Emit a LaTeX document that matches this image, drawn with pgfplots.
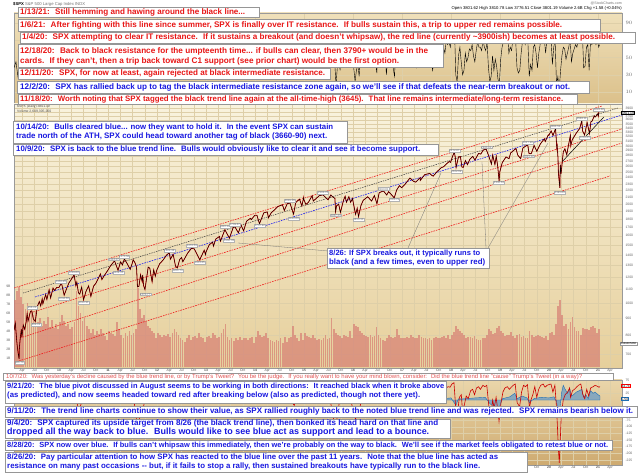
\documentclass[border=0pt]{standalone}
\usepackage{pgfplots}
\pgfplotsset{compat=1.18}
\usepackage{fontspec}
\setmainfont{Liberation Sans}
\definecolor{rtext}{RGB}{232,22,22}
\definecolor{btext}{RGB}{24,24,224}
\definecolor{pinktext}{RGB}{226,84,84}
\definecolor{boxline}{RGB}{150,150,150}
\definecolor{gridc}{RGB}{222,207,168}
\definecolor{mainTop}{RGB}{249,243,222}
\definecolor{mainBot}{RGB}{230,207,155}
\definecolor{topTop}{RGB}{239,224,186}
\definecolor{topBot}{RGB}{219,192,138}
\definecolor{botTop}{RGB}{234,214,170}
\definecolor{botBot}{RGB}{206,170,112}
\definecolor{volc}{RGB}{214,120,112}
\definecolor{trred}{RGB}{238,30,30}
\definecolor{trblue}{RGB}{30,30,238}
\definecolor{trblack}{RGB}{60,60,60}
\definecolor{macdblue}{RGB}{30,110,180}
\newcommand\bx[4]{\draw[boxline,fill=white,line width=0.5pt] (#1,{473-#2}) rectangle (#3,{473-#4});}
% x, y-centre, colour, width, text
\newcommand\bt[5]{\node[anchor=base west,inner sep=0pt] at (#1,{470.5-#2}) {\resizebox{#4pt}{!}{\fontsize{7.6}{9}\selectfont\bfseries\color{#3}#5}};}
\newcommand\lb[3]{\node[draw=black!30,fill=white,inner sep=0.4pt,font=\fontsize{2.8}{3}\selectfont,text=black!55,#3] at (axis cs:#1) {#2};}
\pgfplotsset{
 base/.style={scale only axis, width=608pt, xmin=2009.08, xmax=2021.49, anchor=south west,
   axis line style={draw=black!40, line width=0.4pt}, major tick length=0pt,
   tick label style={font=\fontsize{3.4}{4}\selectfont, text=black!60},
   grid style={gridc, line width=0.3pt}},
 monthticks/.style={xtick={2009.247,2009.496,2009.748,
 2010,2010.247,2010.496,2010.748,2011,2011.247,2011.496,2011.748,
 2012,2012.247,2012.496,2012.748,2013,2013.247,2013.496,2013.748,
 2014,2014.247,2014.496,2014.748,2015,2015.247,2015.496,2015.748,
 2016,2016.247,2016.496,2016.748,2017,2017.247,2017.496,2017.748,
 2018,2018.247,2018.496,2018.748,2019,2019.247,2019.496,2019.748,
 2020,2020.247,2020.496,2020.748,2021,2021.247},
 xticklabel style={inner sep=0.6pt, text=black!65}},
 months/.style={monthticks,
 xticklabels={Apr,Jul,Oct,\textbf{10},Apr,Jul,Oct,\textbf{11},Apr,Jul,Oct,\textbf{12},Apr,Jul,Oct,\textbf{13},Apr,Jul,Oct,\textbf{14},Apr,Jul,Oct,\textbf{15},Apr,Jul,Oct,\textbf{16},Apr,Jul,Oct,\textbf{17},Apr,Jul,Oct,\textbf{18},Apr,Jul,Oct,\textbf{19},Apr,Jul,Oct,\textbf{20},Apr,Jul,Oct,\textbf{21},Apr}},
 monthsend/.style={monthticks,
 xticklabels={,,,,,,,,,,,,,,,,,,,,,,,,,,,,,,,,,,,,,,,,,,Oct,\textbf{20},Apr,Jul,Oct,\textbf{21},Apr}},
}
\begin{document}
\begin{tikzpicture}[x=1pt,y=1pt]
\fill[white] (0,0) rectangle (640,473);
\useasboundingbox (0,0) rectangle (640,473);

% ---------------- top panel (RSI) ----------------
\begin{axis}[base, at={(14pt,369pt)}, height=91pt, ymin=-4, ymax=101.7,
  axis background/.style={top color=topTop, bottom color=topBot},
  xtick={2010,2011,2012,2013,2014,2015,2016,2017,2018,2019,2020,2021}, xticklabels={},
  ytick={10,30,50,70,90}, yticklabel pos=right, ymajorgrids, xmajorgrids]
\addplot[black, line width=0.4pt] coordinates {
(2009.08,38)(2009.12,45)(2009.16,28)(2009.20,55)(2009.24,62)(2009.28,58)(2009.33,70)(2009.37,55)(2009.41,65)(2009.45,48)(2009.49,42)(2009.53,68)(2009.58,72)(2009.62,55)(2009.66,68)(2009.70,62)(2009.74,45)(2009.78,65)(2009.83,48)(2009.87,66)(2009.91,58)(2009.95,62)(2009.99,60)
(2010.04,62)(2010.12,35)(2010.21,68)(2010.29,66)(2010.37,30)(2010.46,38)(2010.54,50)(2010.62,60)(2010.71,42)(2010.79,65)(2010.87,58)(2010.96,68)
(2011.04,66)(2011.12,70)(2011.21,42)(2011.29,62)(2011.37,55)(2011.46,38)(2011.54,58)(2011.62,25)(2011.71,35)(2011.79,65)(2011.87,40)(2011.96,52)
(2012.04,68)(2012.12,72)(2012.21,70)(2012.29,45)(2012.37,32)(2012.46,50)(2012.54,58)(2012.62,62)(2012.71,68)(2012.79,40)(2012.87,35)(2012.96,60)
(2013.04,72)(2013.12,68)(2013.21,70)(2013.29,58)(2013.37,74)(2013.46,38)(2013.54,68)(2013.62,45)(2013.71,62)(2013.79,48)(2013.87,70)(2013.96,65)
(2014.04,60)(2014.12,35)(2014.21,62)(2014.29,45)(2014.37,60)(2014.46,70)(2014.54,68)(2014.62,40)(2014.71,62)(2014.79,30)(2014.87,70)(2014.96,42)
(2015.04,55)(2015.12,68)(2015.21,45)(2015.29,58)(2015.37,62)(2015.46,50)
(2015.514,55)(2015.542,45)(2015.569,62)(2015.597,58)(2015.625,45)(2015.653,18)(2015.681,40)(2015.708,50)(2015.736,35)(2015.764,55)(2015.792,68)(2015.819,72)(2015.847,68)(2015.875,45)(2015.903,58)(2015.931,60)(2015.958,38)(2015.986,52)
(2016.014,38)(2016.042,22)(2016.069,35)(2016.097,42)(2016.125,28)(2016.153,55)(2016.181,65)(2016.208,72)(2016.236,70)(2016.264,62)(2016.292,68)(2016.319,60)(2016.347,45)(2016.375,40)(2016.403,55)(2016.431,62)(2016.458,45)(2016.486,32)(2016.514,70)(2016.542,78)(2016.569,72)(2016.597,65)(2016.625,62)(2016.653,55)(2016.681,30)(2016.708,52)(2016.736,48)(2016.764,45)(2016.792,42)(2016.819,38)(2016.847,28)(2016.875,65)(2016.903,72)(2016.931,78)(2016.958,75)(2016.986,62)
(2017.014,58)(2017.042,52)(2017.069,65)(2017.097,72)(2017.125,82)(2017.153,80)(2017.181,62)(2017.208,48)(2017.236,42)(2017.264,40)(2017.292,38)(2017.319,55)(2017.347,60)(2017.375,42)(2017.403,58)(2017.431,65)(2017.458,52)(2017.486,48)(2017.514,55)(2017.542,68)(2017.569,62)(2017.597,45)(2017.625,35)(2017.653,48)(2017.681,52)(2017.708,62)(2017.736,70)(2017.764,75)(2017.792,78)(2017.819,72)(2017.847,62)(2017.875,55)(2017.903,70)(2017.931,65)(2017.958,68)(2017.986,62)
(2018.014,78)(2018.042,85)(2018.069,88)(2018.097,30)(2018.125,22)(2018.153,52)(2018.181,62)(2018.208,45)(2018.236,30)(2018.264,35)(2018.292,55)(2018.319,45)(2018.347,50)(2018.375,60)(2018.403,58)(2018.431,65)(2018.458,52)(2018.486,45)(2018.514,58)(2018.542,68)(2018.569,62)(2018.597,62)(2018.625,58)(2018.653,70)(2018.681,62)(2018.708,58)(2018.736,68)(2018.764,38)(2018.792,22)(2018.819,28)(2018.847,52)(2018.875,35)(2018.903,48)(2018.931,40)(2018.958,25)(2018.986,18)
(2019.014,48)(2019.042,62)(2019.069,68)(2019.097,72)(2019.125,75)(2019.153,78)(2019.181,55)(2019.208,62)(2019.236,58)(2019.264,72)(2019.292,78)(2019.319,70)(2019.347,38)(2019.375,32)(2019.403,35)(2019.431,55)(2019.458,68)(2019.486,70)(2019.514,65)(2019.542,72)(2019.569,68)(2019.597,28)(2019.625,42)(2019.653,35)(2019.681,62)(2019.708,65)(2019.736,55)(2019.764,38)(2019.792,55)(2019.819,65)(2019.847,75)(2019.875,78)(2019.903,72)(2019.931,55)(2019.958,72)(2019.986,75)
(2020.014,70)(2020.042,72)(2020.069,42)(2020.097,62)(2020.125,70)(2020.153,18)(2020.181,28)(2020.208,12)(2020.236,35)(2020.264,52)(2020.292,62)(2020.319,60)(2020.347,48)(2020.375,55)(2020.403,62)(2020.431,72)(2020.458,45)(2020.486,55)(2020.514,60)(2020.542,65)(2020.569,62)(2020.597,70)(2020.625,72)(2020.653,75)(2020.681,78)(2020.708,38)(2020.736,40)(2020.764,62)(2020.792,65)(2020.819,35)(2020.847,68)(2020.875,65)(2020.903,70)(2020.931,72)(2020.958,65)(2020.986,70)
(2021.014,62)(2021.033,65)};
\end{axis}

% ---------------- main panel: background, grid, labels ----------------
\begin{axis}[base, months, at={(14pt,105pt)}, height=264pt, ymode=log, ymin=634.8, ymax=4021,
  axis background/.style={top color=mainTop, bottom color=mainBot},
  ymajorgrids, xmajorgrids, yticklabel pos=right,
  ytick={700,800,900,1000,1100,1200,1300,1400,1500,1600,1700,1800,1900,2000,2100,2200,2300,2400,2500,2600,2700,2800,2900,3000,3100,3200,3300,3400,3500,3600,3700,3800,3900},
  yticklabels={700,800,900,1000,1100,1200,1300,1400,1500,1600,1700,1800,1900,2000,2100,2200,2300,2400,2500,2600,2700,2800,2900,3000,3100,3200,3300,3400,3500,3600,3700,,3900}]
\addplot[draw=none] coordinates {(2010,1000)};
\end{axis}

% ---------------- volume ----------------
\begin{axis}[base, at={(14pt,105pt)}, height=264pt, ymin=-0.11, ymax=29.44,
  axis line style={draw=none}, xtick=\empty, ytick={1,2,3,4,5,6,7,8,9},
  yticklabels={1B,2B,3B,4B,5B,6B,7B,8B,9B}, yticklabel pos=left]
\addplot[ycomb, volc, line width=1.75pt, opacity=0.65] coordinates {
(2009.104,7.5)(2009.146,8.5)(2009.188,9.0)(2009.229,7.8)(2009.271,7.0)(2009.313,6.5)(2009.354,7.2)(2009.396,6.0)(2009.438,6.8)(2009.479,5.8)(2009.521,6.2)(2009.563,5.0)(2009.604,5.5)(2009.646,4.6)(2009.688,5.2)(2009.729,4.8)(2009.771,5.6)(2009.813,4.5)(2009.854,5.3)(2009.896,4.4)(2009.938,4.8)(2009.979,4.2)
(2010.021,5.0)(2010.063,5.8)(2010.104,5.2)(2010.146,4.6)(2010.188,4.8)(2010.229,4.2)(2010.271,4.5)(2010.313,5.0)(2010.354,8.5)(2010.396,6.8)(2010.438,6.0)(2010.479,5.2)(2010.521,5.5)(2010.563,4.6)(2010.604,4.2)(2010.646,3.8)(2010.688,4.3)(2010.729,3.6)(2010.771,4.0)(2010.813,3.7)(2010.854,4.2)(2010.896,3.8)(2010.938,3.5)(2010.979,3.0)
(2011.021,4.0)(2011.063,3.8)(2011.104,3.7)(2011.146,3.5)(2011.188,5.0)(2011.229,4.2)(2011.271,3.6)(2011.313,3.3)(2011.354,3.8)(2011.396,3.5)(2011.438,4.0)(2011.479,3.6)(2011.521,3.8)(2011.563,4.2)(2011.604,8.8)(2011.646,6.5)(2011.688,5.5)(2011.729,5.8)(2011.771,5.2)(2011.813,4.6)(2011.854,4.4)(2011.896,4.0)(2011.938,3.8)(2011.979,3.3)
(2012.021,3.8)(2012.063,3.6)(2012.104,3.4)(2012.146,3.6)(2012.188,3.5)(2012.229,3.7)(2012.271,3.4)(2012.313,3.8)(2012.354,4.2)(2012.396,3.9)(2012.438,3.6)(2012.479,3.3)(2012.521,3.0)(2012.563,2.8)(2012.604,3.2)(2012.646,3.6)(2012.688,3.0)(2012.729,3.4)(2012.771,3.5)(2012.813,3.2)(2012.854,3.8)(2012.896,3.4)(2012.938,3.3)(2012.979,2.8)
(2013.021,3.4)(2013.063,3.5)(2013.104,3.3)(2013.146,3.8)(2013.188,3.6)(2013.229,3.2)(2013.271,3.4)(2013.313,3.8)(2013.354,4.2)(2013.396,4.8)(2013.438,3.4)(2013.479,3.0)(2013.521,3.2)(2013.563,2.9)(2013.604,3.3)(2013.646,3.0)(2013.688,3.4)(2013.729,3.0)(2013.771,3.2)(2013.813,3.3)(2013.854,3.0)(2013.896,3.2)(2013.938,3.4)(2013.979,2.7)
(2014.021,3.4)(2014.063,4.0)(2014.104,3.6)(2014.146,3.4)(2014.188,3.5)(2014.229,3.8)(2014.271,3.2)(2014.313,3.0)(2014.354,2.9)(2014.396,2.8)(2014.438,3.0)(2014.479,2.9)(2014.521,3.2)(2014.563,2.7)(2014.604,3.4)(2014.646,2.8)(2014.688,3.2)(2014.729,3.4)(2014.771,4.6)(2014.813,3.6)(2014.854,3.2)(2014.896,2.9)(2014.938,3.8)(2014.979,3.0)
(2015.021,3.8)(2015.063,3.5)(2015.104,3.4)(2015.146,3.3)(2015.188,3.6)(2015.229,3.2)(2015.271,3.0)(2015.313,3.1)(2015.354,3.0)(2015.396,3.3)(2015.438,3.6)(2015.479,3.1)(2015.521,3.2)(2015.563,5.5)(2015.604,4.2)(2015.646,3.8)(2015.688,3.6)(2015.729,3.5)(2015.771,3.3)(2015.813,3.6)(2015.854,3.5)(2015.896,3.4)(2015.938,4.0)(2015.979,3.2)
(2016.021,4.8)(2016.063,4.6)(2016.104,4.5)(2016.146,4.0)(2016.188,3.8)(2016.229,3.6)(2016.271,3.5)(2016.313,3.4)(2016.354,3.6)(2016.396,3.4)(2016.438,3.5)(2016.479,4.5)(2016.521,3.6)(2016.563,3.2)(2016.604,3.0)(2016.646,2.9)(2016.688,3.2)(2016.729,3.6)(2016.771,3.4)(2016.813,3.2)(2016.854,3.4)(2016.896,4.2)(2016.938,3.6)(2016.979,3.2)
(2017.021,3.3)(2017.063,3.2)(2017.104,3.4)(2017.146,3.3)(2017.188,3.6)(2017.229,3.4)(2017.271,3.2)(2017.313,3.3)(2017.354,3.6)(2017.396,3.4)(2017.438,3.3)(2017.479,3.2)(2017.521,3.1)(2017.563,3.2)(2017.604,3.0)(2017.646,3.3)(2017.688,3.4)(2017.729,3.2)(2017.771,3.3)(2017.813,3.4)(2017.854,3.5)(2017.896,3.3)(2017.938,3.6)(2017.979,3.1)
(2018.021,3.6)(2018.063,3.9)(2018.104,4.6)(2018.146,4.2)(2018.188,4.0)(2018.229,3.8)(2018.271,3.6)(2018.313,3.3)(2018.354,3.4)(2018.396,3.4)(2018.438,3.3)(2018.479,3.5)(2018.521,3.1)(2018.563,3.0)(2018.604,3.0)(2018.646,3.2)(2018.688,3.3)(2018.729,3.6)(2018.771,4.2)(2018.813,4.0)(2018.854,3.7)(2018.896,3.8)(2018.938,4.4)(2018.979,4.6)
(2019.021,4.0)(2019.063,3.8)(2019.104,3.5)(2019.146,3.6)(2019.188,3.6)(2019.229,3.9)(2019.271,3.5)(2019.313,3.3)(2019.354,3.6)(2019.396,3.7)(2019.438,3.4)(2019.479,3.5)(2019.521,3.3)(2019.563,3.2)(2019.604,4.0)(2019.646,3.6)(2019.688,3.4)(2019.729,3.5)(2019.771,3.6)(2019.813,3.5)(2019.854,3.4)(2019.896,3.3)(2019.938,3.5)(2019.979,3.0)
(2020.021,3.8)(2020.063,3.9)(2020.104,3.6)(2020.146,4.8)(2020.188,6.8)(2020.229,7.5)(2020.271,5.8)(2020.313,4.6)(2020.354,4.8)(2020.396,4.2)(2020.438,5.0)(2020.479,5.6)(2020.521,4.5)(2020.563,4.0)(2020.604,4.0)(2020.646,3.6)(2020.688,4.4)(2020.729,4.2)(2020.771,4.3)(2020.813,4.1)(2020.854,4.5)(2020.896,4.6)(2020.938,4.4)(2020.979,3.8)
(2021.021,4.2)};
\end{axis}

% ---------------- price and trend lines ----------------
\begin{axis}[base, at={(14pt,105pt)}, height=264pt, ymode=log, ymin=634.8, ymax=4021, hide axis]
\addplot[trred, line width=0.6pt, dash pattern=on 1.6pt off 1pt] coordinates {(2009.08,1110.6)(2021.08,3966)};
\addplot[trblack, line width=0.5pt, dash pattern=on 1.4pt off 1pt] coordinates {(2009.264,1072)(2021.407,3910)};
\addplot[trblue, line width=0.6pt, dash pattern=on 1.6pt off 1pt] coordinates {(2009.509,1043)(2021.488,3723)};
\addplot[trred, line width=0.6pt, dash pattern=on 1.6pt off 1pt] coordinates {(2009.468,939)(2021.488,3376)};
\addplot[trred, line width=0.6pt, dash pattern=on 1.6pt off 1pt] coordinates {(2009.202,783)(2021.488,3061)};
\addplot[trred, line width=0.6pt, dash pattern=on 1.6pt off 1pt] coordinates {(2009.182,667)(2021.243,2430)};
\addplot[black, line width=0.5pt] coordinates {(2020.264,2681)(2021.12,3672)};
\pgfplotstableread{
x y
2009.080 826
2009.107 869
2009.129 789
2009.145 743
2009.167 700
2009.184 677
2009.187 720
2009.206 778
2009.230 832
2009.241 788
2009.269 857
2009.299 832
2009.329 877
2009.348 929
2009.367 882
2009.417 944
2009.444 946
2009.474 895
2009.515 879
2009.556 976
2009.597 1010
2009.625 979
2009.655 1029
2009.669 994
2009.726 1060
2009.751 1025
2009.797 1097
2009.827 1036
2009.877 1110
2009.904 1091
2009.951 1114
2009.997 1115
2010.049 1150
2010.104 1056
2010.153 1105
2010.200 1150
2010.247 1178
2010.307 1217
2010.343 1128
2010.362 1157
2010.395 1074
2010.422 1064
2010.461 1117
2010.499 1022
2010.548 1083
2010.603 1127
2010.649 1047
2010.704 1125
2010.748 1146
2010.786 1176
2010.844 1225
2010.874 1178
2010.915 1206
2010.997 1258
2011.047 1295
2011.132 1343
2011.203 1257
2011.255 1332
2011.294 1305
2011.332 1361
2011.389 1317
2011.452 1265
2011.493 1320
2011.512 1353
2011.548 1326
2011.581 1287
2011.600 1119
2011.606 1120
2011.630 1124
2011.663 1219
2011.696 1162
2011.707 1216
2011.724 1130
2011.753 1099
2011.819 1285
2011.852 1275
2011.899 1159
2011.931 1261
2011.964 1206
2011.994 1258
2012.052 1315
2012.123 1350
2012.200 1402
2012.250 1419
2012.272 1358
2012.329 1405
2012.376 1295
2012.414 1278
2012.463 1357
2012.501 1374
2012.526 1334
2012.625 1418
2012.702 1465
2012.759 1460
2012.808 1413
2012.871 1353
2012.962 1446
2012.989 1402
2012.997 1426
2013.066 1503
2013.134 1530
2013.151 1488
2013.198 1563
2013.274 1593
2013.294 1541
2013.384 1669
2013.477 1573
2013.554 1695
2013.584 1709
2013.660 1633
2013.713 1725
2013.767 1656
2013.825 1771
2013.904 1807
2013.923 1792
2013.997 1848
2014.038 1848
2014.090 1741
2014.178 1878
2014.250 1891
2014.274 1815
2014.332 1881
2014.408 1924
2014.466 1963
2014.559 1988
2014.597 1910
2014.658 2003
2014.713 2011
2014.786 1862
2014.830 2018
2014.907 2067
2014.956 1972
2014.992 2090
2014.997 2059
2015.038 1992
2015.088 2021
2015.165 2117
2015.189 2040
2015.310 2117
2015.384 2131
2015.452 2084
2015.490 2058
2015.548 2129
2015.587 2098
2015.630 2079
2015.644 1893
2015.663 1972
2015.707 1996
2015.743 1884
2015.806 2052
2015.839 2109
2015.866 2023
2015.915 2103
2015.951 2022
2015.992 2078
2015.997 2044
2016.052 1859
2016.085 1940
2016.112 1829
2016.162 1978
2016.208 2050
2016.299 2102
2016.378 2040
2016.436 2119
2016.488 2001
2016.534 2162
2016.619 2190
2016.688 2128
2016.724 2177
2016.784 2133
2016.841 2085
2016.890 2203
2016.948 2272
2016.994 2239
2017.066 2298
2017.162 2396
2017.233 2342
2017.280 2329
2017.370 2400
2017.373 2357
2017.463 2453
2017.567 2475
2017.608 2441
2017.636 2428
2017.718 2508
2017.800 2575
2017.852 2594
2017.912 2648
2017.962 2690
2017.992 2674
2018.030 2786
2018.068 2873
2018.088 2762
2018.104 2581
2018.153 2780
2018.192 2783
2018.222 2588
2018.250 2582
2018.294 2708
2018.335 2630
2018.384 2733
2018.444 2787
2018.488 2716
2018.562 2846
2018.608 2833
2018.658 2914
2018.718 2931
2018.773 2786
2018.825 2641
2018.850 2814
2018.896 2633
2018.923 2790
2018.953 2600
2018.981 2351
2018.997 2507
2019.047 2671
2019.123 2776
2019.184 2743
2019.217 2855
2019.326 2946
2019.362 2812
2019.422 2744
2019.466 2954
2019.565 3026
2019.592 2845
2019.617 2840
2019.641 2847
2019.696 3009
2019.751 2888
2019.822 3039
2019.904 3153
2019.923 3093
2019.986 3240
2019.997 3231
2020.044 3330
2020.082 3226
2020.134 3386
2020.159 2954
2020.167 3003
2020.184 2747
2020.192 2481
2020.203 2386
2020.222 2237
2020.230 2630
2020.247 2471
2020.291 2875
2020.324 2940
2020.362 2820
2020.436 3232
2020.444 3002
2020.474 3131
2020.554 3276
2020.627 3390
2020.669 3580
2020.685 3332
2020.726 3237
2020.778 3534
2020.827 3270
2020.855 3550
2020.880 3568
2020.923 3699
2020.940 3668
2020.989 3735
2020.997 3756
2021.008 3701
2021.019 3824
2021.033 3809
}\price
\addplot[red!85!black, line width=0.75pt] table[x=x,y=y] {\price};
\addplot[black, line width=0.35pt] table[x=x,y=y] {\price};
\lb{2009.19,666.79}{666.79}{below}
\lb{2009.45,956.23}{956.23}{above}
\lb{2009.53,869.32}{869.32}{below}
\lb{2010.04,1150.45}{1150.45}{above}
\lb{2010.10,1044.50}{1044.50}{below}
\lb{2010.30,1219.80}{1219.80}{above}
\lb{2010.50,1010.91}{1010.91}{below}
\lb{2011.12,1344.07}{1344.07}{above}
\lb{2011.21,1249.05}{1249.05}{below}
\lb{2011.33,1370.58}{1370.58}{above}
\lb{2011.76,1074.77}{1074.77}{below}
\lb{2012.25,1422.38}{1422.38}{above}
\lb{2012.42,1266.74}{1266.74}{below}
\lb{2012.71,1474.51}{1474.51}{above}
\lb{2012.87,1343.35}{1343.35}{below}
\lb{2013.39,1687.18}{1687.18}{above}
\lb{2013.47,1560.33}{1560.33}{below}
\lb{2013.59,1709.67}{1709.67}{above}
\lb{2014.10,1737.92}{1737.92}{below}
\lb{2014.71,2019.26}{2019.26}{above}
\lb{2014.79,1820.66}{1820.66}{below}
\lb{2015.39,2134.72}{2134.72}{above}
\lb{2015.65,1867.01}{1867.01}{below}
\lb{2016.11,1810.10}{1810.10}{below}
\lb{2016.62,2193.81}{2193.81}{above}
\lb{2016.84,2083.79}{2083.79}{below}
\lb{2018.07,2872.87}{2872.87}{above}
\lb{2018.11,2532.69}{2532.69}{below}
\lb{2018.72,2940.91}{2940.91}{above}
\lb{2018.98,2346.58}{2346.58}{below}
\lb{2019.57,3027.98}{3027.98}{above}
\lb{2019.59,2822.12}{2822.12}{below}
\lb{2020.13,3393.52}{3393.52}{above}
\lb{2020.22,2191.86}{2191.86}{below}
\lb{2020.67,3588.11}{3588.11}{above}
\lb{2020.73,3209.45}{3209.45}{below}
\lb{2021.02,3824.68}{3824.68}{above}
\end{axis}

% ---------------- bottom panel ----------------
\begin{axis}[base, monthsend, at={(14pt,8pt)}, height=85pt, ymin=-243.4, ymax=75,
  axis background/.style={top color=botTop, bottom color=botBot},
  ytick={75,25,-25,-50,-75,-100,-125,-150,-175,-200,-225},
  yticklabels={75,25,,,-75,-100,-125,-150,-175,-200,-225}, yticklabel pos=right,
  ymajorgrids, xmajorgrids]
\addplot[fill=macdblue!70, draw=macdblue, line width=0.4pt, fill opacity=0.7] coordinates {
(2009.08,5)(2017.88,5)(2017.90,6)(2018.00,8)(2018.10,-20)(2018.15,4)(2018.30,5)(2018.50,8)(2018.70,10)(2018.80,-15)(2018.98,-30)(2019.05,5)(2019.20,12)(2019.30,25)(2019.35,5)(2019.45,15)(2019.55,8)(2019.60,-10)(2019.70,6)(2019.85,10)(2020.00,8)(2020.10,12)(2020.15,-5)(2020.19,-40)(2020.21,-60)(2020.23,-20)(2020.26,30)(2020.29,55)(2020.33,40)(2020.38,25)(2020.42,45)(2020.46,15)(2020.50,20)(2020.56,30)(2020.62,35)(2020.67,40)(2020.71,10)(2020.75,20)(2020.80,5)(2020.85,35)(2020.90,25)(2020.94,30)(2021.00,20)(2021.04,15)} \closedcycle;
\addplot[red!80!black, line width=0.6pt] coordinates {
(2009.10,20)(2009.30,55)(2009.50,40)(2009.70,50)(2009.90,45)(2010.10,30)(2010.30,50)(2010.40,-40)(2010.50,10)(2010.70,45)(2010.90,50)(2011.10,55)(2011.30,45)(2011.50,30)(2011.60,-90)(2011.70,-40)(2011.80,30)(2011.90,20)(2012.10,55)(2012.30,45)(2012.40,0)(2012.60,45)(2012.80,40)(2012.90,20)(2013.10,55)(2013.30,50)(2013.50,20)(2013.70,45)(2013.90,50)(2014.10,20)(2014.30,45)(2014.50,50)(2014.80,-20)(2014.90,45)(2015.10,40)(2015.30,45)(2015.50,35)(2015.64,-110)(2015.75,30)(2015.90,35)(2016.05,-70)(2016.12,-40)(2016.25,50)(2016.49,-10)(2016.60,55)(2016.80,20)(2016.95,55)(2017.10,55)(2017.30,45)(2017.50,50)(2017.62,30)(2017.80,55)
(2017.90,45)(2017.94,50)(2017.98,48)(2018.02,60)(2018.06,65)(2018.10,-40)(2018.13,-55)(2018.17,10)(2018.21,20)(2018.23,-30)(2018.27,-20)(2018.31,15)(2018.35,5)(2018.40,35)(2018.44,40)(2018.48,20)(2018.52,45)(2018.56,50)(2018.60,40)(2018.65,55)(2018.69,50)(2018.73,55)(2018.77,-20)(2018.81,-60)(2018.85,0)(2018.88,-30)(2018.92,10)(2018.96,-45)(2018.98,-80)(2019.02,-10)(2019.06,30)(2019.10,45)(2019.15,50)(2019.19,40)(2019.23,48)(2019.27,55)(2019.31,60)(2019.35,-10)(2019.40,-25)(2019.44,30)(2019.48,55)(2019.52,50)(2019.56,58)(2019.60,-30)(2019.63,0)(2019.67,20)(2019.71,50)(2019.75,10)(2019.79,40)(2019.83,55)(2019.88,60)(2019.92,48)(2019.96,55)(2020.00,58)(2020.04,60)(2020.08,30)(2020.12,55)(2020.15,-20)(2020.17,-90)(2020.19,-180)(2020.21,-235)(2020.23,-150)(2020.25,-60)(2020.29,0)(2020.33,20)(2020.38,30)(2020.42,45)(2020.44,10)(2020.48,35)(2020.52,40)(2020.56,48)(2020.60,55)(2020.65,60)(2020.69,20)(2020.73,5)(2020.77,40)(2020.81,15)(2020.85,45)(2020.90,50)(2020.94,55)(2020.98,52)(2021.02,48)(2021.04,50)};
\end{axis}

% ---------------- header & small labels ----------------
\node[anchor=west,inner sep=0,font=\fontsize{4.2}{5}\selectfont] at (13,469) {\textbf{\$SPX} \textcolor{black!55}{S\&P 500 Large Cap Index INDX}};
\node[anchor=east,inner sep=0,font=\fontsize{3.6}{4}\selectfont,text=black!55] at (622,470) {@StockCharts.com};
\node[anchor=east,inner sep=0,font=\fontsize{4.2}{5}\selectfont] at (622,465) {Open 3801.62 High 3810.78 Low 3776.51 Close 3801.19 Volume 2.6B Chg +1.58 (+0.04\%)};
\node[anchor=west,inner sep=0,font=\fontsize{3.4}{4}\selectfont,text=black!70] at (17,366) {\$SPX (Daily) 3801.19};
\node[anchor=west,inner sep=0,font=\fontsize{3.4}{4}\selectfont,text=black!70] at (17,362) {Volume 2,649,305,260};
\node[anchor=west,draw=black,fill=white,inner sep=0.5pt,font=\fontsize{3.4}{4}\selectfont] at (621,360) {3801.19};
\node[anchor=west,draw=black!40,fill=white,inner sep=0.5pt,font=\fontsize{2.8}{3}\selectfont] at (620,129) {2649305260};
\node[anchor=west,draw=red,fill=white,inner sep=0.5pt,font=\fontsize{3.2}{4}\selectfont] at (621,87) {44.74};
\node[anchor=west,draw=macdblue,fill=white,inner sep=0.5pt,font=\fontsize{3.2}{4}\selectfont] at (621,74) {5.54};

% ---------------- pointer lines for 8/26 box ----------------
\begin{scope}[draw=black!55, double=black!18, double distance=0.7pt, line width=0.3pt]
\draw (328,{473-251}) -- (238,{473-243});
\draw (408,{473-248}) -- (441,{473-173});
\draw (486,{473-248}) -- (482,{473-162});
\draw (488,{473-248}) -- (548,{473-143});
\end{scope}

% ---------------- annotation boxes ----------------
\bx{18}{7}{259}{17}
\bt{20}{12}{rtext}{225}{1/13/21:~ Still hemming and hawing around the black line...}
\bx{18}{19}{600}{31}
\bt{20}{25}{rtext}{542}{1/6/21:~ After fighting with this line since summer, SPX is finally over IT resistance.~ If bulls sustain this, a trip to upper red remains possible.}
\bx{20}{32}{635}{43}
\bt{22}{37.5}{rtext}{593}{1/4/20:~ SPX attempting to clear IT resistance.~ If it sustains a breakout (and doesn't whipsaw), the red line (currently \textasciitilde3900ish) becomes at least possible.}
\bx{18}{44}{443}{67}
\bt{20}{51}{rtext}{408}{12/18/20:~ Back to black resistance for the umpteenth time... if bulls can clear, then 3790+ would be in the}
\bt{20}{61}{rtext}{379}{cards.~ If they can't, then a trip back toward C1 support (see prior chart) would be the first option.}
\bx{18}{68}{330}{79}
\bt{20}{73.5}{rtext}{305}{12/11/20:~ SPX, for now at least, again rejected at black intermediate resistance.}
\bx{17}{81}{589}{93}
\bt{20}{87}{btext}{550}{12/2/20:~ SPX has rallied back up to tag the black intermediate resistance zone again, so we'll see if that defeats the near-term breakout or not.}
\bx{18}{94}{577}{104}
\bt{20}{99}{rtext}{543}{11/18/20:~ Worth noting that SPX tagged the black trend line again at the all-time-high (3645).~ That line remains intermediate/long-term resistance.}
\bx{13}{121}{347}{143}
\bt{16}{127}{btext}{317}{10/14/20:~ Bulls cleared blue... now they want to hold it.~ In the event SPX can sustain}
\bt{16}{136}{btext}{311}{trade north of the ATH, SPX could head toward another tag of black (3660-90) next.}
\bx{13}{144}{438}{155}
\bt{16}{149.5}{btext}{404}{10/9/20:~ SPX is back to the blue trend line.~ Bulls would obviously like to clear it and see it become support.}
% middle box
\bx{327}{248}{489}{268}
\bt{329}{253}{btext}{151}{8/26: If SPX breaks out, it typically runs to}
\bt{329}{262}{btext}{156}{black (and a few times, even to upper red)}
% bottom boxes
\bx{3}{373}{613}{380}
\node[anchor=base west,inner sep=0pt] at (6,{473-378.3}) {\resizebox{576pt}{!}{\fontsize{5.4}{6}\selectfont\color{pinktext}10/7/20:~ Was yesterday's decline caused by the blue trend line, or by Trump's Tweet?~ You be the judge.~ If you really want to have your mind blown, consider:~ Did the blue trend line "cause" Trump's Tweet (in a way)?}};
\bx{5}{381}{446}{403}
\bt{7}{386.5}{btext}{437}{9/21/20:~ The blue pivot discussed in August seems to be working in both directions:~ It reached black when it broke above}
\bt{7}{395.5}{btext}{413}{(as predicted), and now seems headed toward red after breaking below (also as predicted, though not there yet).}
\bx{5}{406}{637}{417}
\bt{7}{411.5}{btext}{626}{9/11/20:~ The trend line charts continue to show their value, as SPX rallied roughly back to the noted blue trend line and was rejected.~ SPX remains bearish below it.}
\bx{5}{419}{450}{438}
\bt{7}{423.5}{btext}{431}{9/4/20:~ SPX captured its upside target from 8/26 (the black trend line), then bonked its head hard on that line and}
\bt{7}{432.5}{btext}{422}{dropped all the way back to blue.~ Bulls would like to see blue act as support and lead to a bounce.}
\bx{5}{440}{612}{450}
\bt{7}{445}{btext}{601}{8/28/20:~ SPX now over blue.~ If bulls can't whipsaw this immediately, then we're probably on the way to black.~ We'll see if the market feels obligated to retest blue or not.}
\bx{5}{452}{527}{472}
\bt{7}{457}{btext}{491}{8/26/20:~ Pay particular attention to how SPX has reacted to the blue line over the past 11 years.~ Note that the blue line has acted as}
\bt{7}{466.5}{btext}{473}{resistance on many past occasions -{}- but, if it fails to stop a rally, then sustained breakouts have typically run to the black line.}
\end{tikzpicture}
\end{document}
